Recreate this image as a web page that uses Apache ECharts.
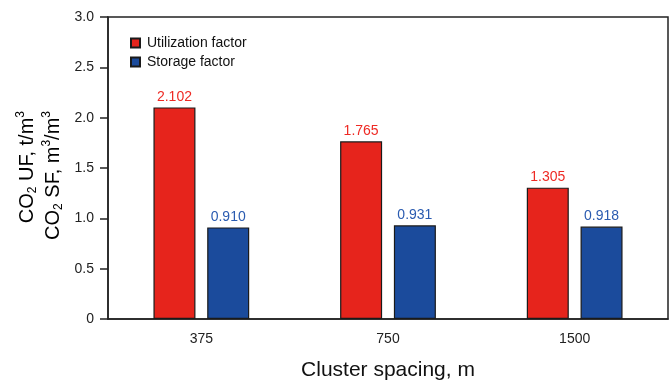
<!DOCTYPE html>
<html>
<head>
<meta charset="utf-8">
<script src="https://cdn.jsdelivr.net/npm/echarts@6/dist/echarts.min.js"></script>
<style>
  html, body { margin: 0; padding: 0; background: #fff; }
  #chart { width: 671px; height: 382px; }
</style>
</head>
<body>
<div id="chart"></div>
<script>
// Cluster spacing categories and the two CO2 factors per spacing
const categories = ['375', '750', '1500'];
const utilizationFactor = [2.102, 1.765, 1.305];
const storageFactor = [0.910, 0.931, 0.918];
const seriesNames = ['Utilization factor', 'Storage factor'];

const FONT = '"Liberation Sans", Arial, sans-serif';
const RED = '#E6241C';
const BLUE = '#1B4B9C';

const chart = echarts.init(document.getElementById('chart'), null, { renderer: 'canvas' });

// rich text styles for the rotated y-axis title (subscript / superscript)
const titleRich = {
  n: { fontSize: 20, fontFamily: FONT, color: '#111', lineHeight: 24 },
  sub: { fontSize: 12, fontFamily: FONT, color: '#111', verticalAlign: 'bottom', lineHeight: 24, padding: [9, 0, 0, 0] },
  sup: { fontSize: 12, fontFamily: FONT, color: '#111', verticalAlign: 'top', lineHeight: 24, padding: [0, 0, 9, 0] }
};

chart.setOption({
  animation: false,
  backgroundColor: '#fff',
  grid: {
    left: 108, right: 3, top: 17, bottom: 63,
    outerBoundsMode: 'none',
    containLabel: false,
    show: true, borderColor: '#222', borderWidth: 1.5, backgroundColor: 'transparent'
  },
  legend: {
    orient: 'vertical',
    left: 125, top: 31,
    itemWidth: 9, itemHeight: 9, itemGap: 5,
    icon: 'rect',
    textStyle: { fontSize: 14, fontFamily: FONT, color: '#111', padding: [0, 0, 0, 2] },
    data: seriesNames
  },
  xAxis: {
    type: 'category',
    data: categories,
    name: 'Cluster spacing, m',
    nameLocation: 'middle',
    nameGap: 41,
    nameTextStyle: { fontSize: 21, fontFamily: FONT, color: '#111' },
    axisLine: { lineStyle: { color: '#222', width: 1.5 } },
    axisTick: { show: false },
    axisLabel: { fontSize: 14, fontFamily: FONT, color: '#222', margin: 13 }
  },
  yAxis: {
    type: 'value',
    min: 0, max: 3, interval: 0.5,
    axisLine: { show: true, lineStyle: { color: '#222', width: 1.5 } },
    axisTick: { show: true, inside: false, length: 8, lineStyle: { color: '#222', width: 1.5 } },
    splitLine: { show: false },
    axisLabel: {
      fontSize: 14, fontFamily: FONT, color: '#222', margin: 14,
      formatter: v => (v === 0 ? '0' : v.toFixed(1))
    }
  },
  graphic: [
    {
      type: 'text', x: 27, y: 111, rotation: Math.PI / 2,
      style: {
        text: '{n|CO}{sub|2}{n| UF, t/m}{sup|3}',
        rich: titleRich, align: 'right', verticalAlign: 'middle'
      }
    },
    {
      type: 'text', x: 53, y: 111, rotation: Math.PI / 2,
      style: {
        text: '{n|CO}{sub|2}{n| SF, m}{sup|3}{n|/m}{sup|3}',
        rich: titleRich, align: 'right', verticalAlign: 'middle'
      }
    }
  ],
  series: [
    {
      name: seriesNames[0],
      type: 'bar',
      data: utilizationFactor,
      barWidth: 42,
      barGap: '28%',
      itemStyle: { color: RED, borderColor: '#1a1a1a', borderWidth: 1.2 },
      label: {
        show: true, position: 'top', distance: 3,
        fontSize: 14, fontFamily: FONT, color: '#EE2A24',
        formatter: p => p.value.toFixed(3)
      }
    },
    {
      name: seriesNames[1],
      type: 'bar',
      data: storageFactor,
      barWidth: 42,
      itemStyle: { color: BLUE, borderColor: '#1a1a1a', borderWidth: 1.2 },
      label: {
        show: true, position: 'top', distance: 3,
        fontSize: 14, fontFamily: FONT, color: '#2A5BB0',
        formatter: p => p.value.toFixed(3)
      }
    }
  ]
});
</script>
</body>
</html>
